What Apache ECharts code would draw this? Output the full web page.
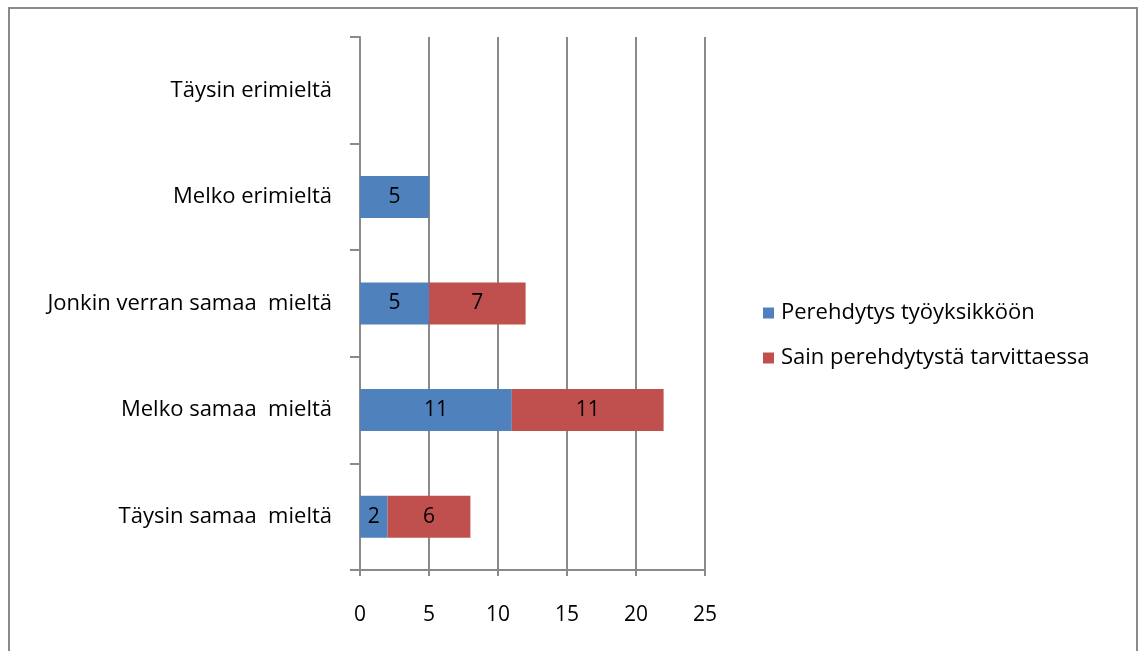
<!DOCTYPE html>
<html>
<head>
<meta charset="utf-8">
<script src="https://cdn.jsdelivr.net/npm/echarts@6/dist/echarts.min.js"></script>
<style>
html,body{margin:0;padding:0;background:#fff;}
#c{width:1140px;height:651px;}
</style>
</head>
<body>
<div id="c"></div>
<script>
var categories = ['Täysin samaa  mieltä', 'Melko samaa  mieltä', 'Jonkin verran samaa  mieltä', 'Melko erimieltä', 'Täysin erimieltä'];
var seriesNames = ['Perehdytys työyksikköön', 'Sain perehdytystä tarvittaessa'];
var perehdytys = [2, 11, 5, 5, 0];
var sain = [6, 11, 7, 0, 0];
var xTicks = [0, 5, 10, 15, 20, 25];

var FONT = '"Open Sans", "Noto Sans", sans-serif';
var chart = echarts.init(document.getElementById('c'), null, {renderer: 'canvas'});
function lbl(p){ return p.value ? String(p.value) : ''; }
chart.setOption({
  animation: false,
  backgroundColor: '#fff',
  graphic: [{
    type: 'rect', shape: {x: 9, y: 8, width: 1128, height: 660},
    style: {fill: 'none', stroke: '#8a8a8a', lineWidth: 2}, z: 0
  }],
  grid: {left: 360, right: 435, top: 37, bottom: 81, containLabel: false},
  legend: {
    orient: 'vertical', left: 758, top: 297,
    itemWidth: 11, itemHeight: 11, itemGap: 23, icon: 'rect',
    textStyle: {fontFamily: FONT, fontSize: 22, color: '#000', padding: [0, 0, 0, 2]},
    data: seriesNames
  },
  xAxis: {
    type: 'value', min: xTicks[0], max: xTicks[xTicks.length - 1], interval: 5,
    axisLine: {show: true, lineStyle: {color: '#8a8a8a', width: 2}},
    axisTick: {show: true, length: 6, lineStyle: {color: '#8a8a8a', width: 2}},
    splitLine: {show: true, lineStyle: {color: '#8a8a8a', width: 2}},
    axisLabel: {margin: 35, fontFamily: FONT, fontSize: 21, color: '#000'}
  },
  yAxis: {
    type: 'category', data: categories,
    axisLine: {show: true, lineStyle: {color: '#8a8a8a', width: 2}},
    axisTick: {show: true, length: 10, alignWithLabel: false, lineStyle: {color: '#8a8a8a', width: 2}},
    axisLabel: {margin: 28, fontFamily: FONT, fontSize: 22, color: '#000'}
  },
  series: [
    {
      name: seriesNames[0], type: 'bar', stack: 'a', data: perehdytys,
      barWidth: 42, itemStyle: {color: '#4F81BD'},
      label: {show: true, position: 'inside', formatter: lbl, fontFamily: FONT, fontSize: 21, color: '#000'}
    },
    {
      name: seriesNames[1], type: 'bar', stack: 'a', data: sain,
      barWidth: 42, itemStyle: {color: '#C0504D'},
      label: {show: true, position: 'inside', formatter: lbl, fontFamily: FONT, fontSize: 21, color: '#000'}
    }
  ]
});
</script>
</body>
</html>
